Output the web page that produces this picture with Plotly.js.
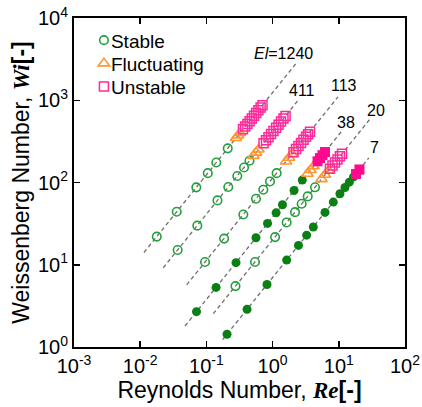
<!DOCTYPE html>
<html><head><meta charset="utf-8">
<script src="https://cdn.plot.ly/plotly-3.0.1.min.js"></script>
<style>html,body{margin:0;padding:0;background:#fff}#chart{width:422px;height:407px}</style>
</head><body><div id="chart"></div>
<script>
// ---- data ----
const elValues = [1240, 411, 113, 38, 20, 7];
const elLabels = ['<i>El</i>=1240', '411', '113', '38', '20', '7'];
const lineReStart = [0.0114, 0.0223, 0.0504, 0.0475, 0.127, 0.176];
const lineWiStart = [14.1, 9.2, 5.7, 1.8, 2.54, 1.23];
const lineReEnd = [2.25, 2.42, 9.73, 11.6, 29.6, 28.4];
const lineWiEnd = [2790, 995, 1100, 441, 592, 199];

const stableOpenRe = [0.0178, 0.0356, 0.0704, 0.105, 0.141, 0.210,
  0.0368, 0.0729, 0.147, 0.214, 0.293, 0.370, 0.448,
  0.0953, 0.185, 0.361, 0.561, 0.724, 0.913, 1.15,
  0.275, 0.542, 1.09, 1.63, 2.18, 2.75, 3.39, 4.37];
const stableOpenWi = [22.0, 44.1, 87.3, 130, 175, 260,
  15.1, 29.9, 60.6, 88.1, 120, 152, 184,
  10.8, 20.8, 40.8, 63.4, 81.8, 103, 130,
  5.5, 10.8, 21.7, 32.7, 43.6, 55.1, 67.8, 87.4];

const stableFilledRe = [0.0709, 0.140, 0.280, 0.561, 0.838, 1.13, 1.41, 2.11, 2.81,
  0.205, 0.411, 0.823, 1.63, 2.46, 3.27, 4.12, 6.19, 8.26, 10.4, 12.4, 14.4, 16.7];
const stableFilledWi = [2.69, 5.30, 10.6, 21.3, 31.8, 42.8, 53.6, 80.0, 107,
  1.43, 2.87, 5.76, 11.4, 17.2, 22.9, 28.8, 43.3, 57.8, 73.0, 86.9, 101, 117];

const fluctRe = [0.280, 0.300, 0.322,
  0.514, 0.561, 0.612,
  1.59, 1.77, 1.96,
  3.37, 3.74, 4.15,
  5.48, 6.19, 6.99,
  19.5];
const fluctWi = [347, 372, 400,
  211, 231, 252,
  180, 200, 222,
  128, 142, 158,
  110, 124, 140,
  136];

const unstableOpenRe = [0.357, 0.386, 0.416, 0.450, 0.485, 0.524, 0.565, 0.610, 0.659, 0.704,
  0.729, 0.795, 0.867, 0.946, 1.03, 1.13, 1.23, 1.34, 1.46, 1.57,
  2.07, 2.26, 2.46, 2.69, 2.93, 3.20, 3.43, 3.67,
  7.36, 8.03, 8.76, 9.55, 10.4, 11.2];
const unstableOpenWi = [443, 478, 516, 557, 602, 649, 701, 757, 817, 872,
  300, 327, 356, 389, 424, 463, 505, 550, 601, 644,
  234, 255, 278, 303, 331, 361, 387, 415,
  147, 161, 175, 191, 208, 223];

const unstableFilledRe = [4.77, 5.20, 5.67, 6.19, 18.2, 20.5];
const unstableFilledWi = [181, 198, 215, 235, 127, 144];

// label anchor points (Re, Wi) for the El annotations
const labelRe = [1.44, 2.78, 12.0, 12.85, 36.5, 35.2];
const labelWi = [3750, 1330, 1530, 544, 761, 270];

const xTickVals = [0.001, 0.01, 0.1, 1, 10, 100];
const xTickText = ['10<sup>-3</sup>', '10<sup>-2</sup>', '10<sup>-1</sup>', '10<sup>0</sup>', '10<sup>1</sup>', '10<sup>2</sup>'];
const yTickVals = [1, 10, 100, 1000, 10000];
const yTickText = ['10<sup>0</sup>', '10<sup>1</sup>', '10<sup>2</sup>', '10<sup>3</sup>', '10<sup>4</sup>'];

// ---- traces ----
const traces = [];
elValues.forEach((el, i) => {
  traces.push({
    type: 'scatter', mode: 'lines',
    x: [lineReStart[i], lineReEnd[i]], y: [lineWiStart[i], lineWiEnd[i]],
    line: {color: '#6e6e6e', width: 1.3, dash: '4px,3px'},
    showlegend: false, hoverinfo: 'skip'
  });
});
traces.push({type: 'scatter', mode: 'markers', name: 'Stable', x: stableOpenRe, y: stableOpenWi,
  marker: {symbol: 'circle-open', size: 8.5, color: '#22a13a', line: {width: 1.6, color: '#22a13a'}}});
traces.push({type: 'scatter', mode: 'markers', name: 'Stable (filled)', showlegend: false, x: stableFilledRe, y: stableFilledWi,
  marker: {symbol: 'circle', size: 9, color: '#0a7f14', line: {width: 0}}});
traces.push({type: 'scatter', mode: 'markers', name: 'Fluctuating', x: fluctRe, y: fluctWi,
  marker: {symbol: 'triangle-up-open', size: 10, color: '#ff962e', line: {width: 1.6, color: '#ff962e'}}});
traces.push({type: 'scatter', mode: 'markers', name: 'Unstable', x: unstableOpenRe, y: unstableOpenWi,
  marker: {symbol: 'square-open', size: 9, color: '#ff2a9a', line: {width: 1.5, color: '#ff2a9a'}}});
traces.push({type: 'scatter', mode: 'markers', name: 'Unstable (filled)', showlegend: false, x: unstableFilledRe, y: unstableFilledWi,
  marker: {symbol: 'square', size: 10, color: '#ff0a8e', line: {width: 0}}});

const annotations = elLabels.map((t, i) => ({
  text: t, x: Math.log10(labelRe[i]), y: Math.log10(labelWi[i]), xref: 'x', yref: 'y',
  showarrow: false, xanchor: 'center', yanchor: 'middle',
  font: {size: 16, color: '#000', family: 'Liberation Sans, Arial, sans-serif'}
}));

const axisCommon = {
  type: 'log', showgrid: false, zeroline: false,
  showline: true, linecolor: '#000', linewidth: 2, mirror: 'ticks',
  ticks: 'inside', ticklen: 6, tickwidth: 1.5, tickcolor: '#000',
  tickfont: {size: 20, color: '#000', family: 'Liberation Sans, Arial, sans-serif'}
};

const layout = {
  width: 422, height: 407,
  margin: {l: 74, r: 17, t: 18, b: 60},
  paper_bgcolor: '#fff', plot_bgcolor: '#fff',
  font: {family: 'Liberation Sans, Arial, sans-serif', color: '#000'},
  xaxis: Object.assign({}, axisCommon, {
    range: [-3, 2], tickvals: xTickVals, ticktext: xTickText,
    title: {text: 'Reynolds Number, <span style="font-family:\'Liberation Serif\'"><b><i>Re</i></b></span><b>[-]</b>',
      font: {size: 23, color: '#000'}, standoff: 4}
  }),
  yaxis: Object.assign({}, axisCommon, {
    range: [0, 4], tickvals: yTickVals, ticktext: yTickText,
    title: {text: 'Weissenberg Number, <span style="font-family:\'Liberation Serif\'"><b><i>Wi</i></b></span><b>[-]</b>',
      font: {size: 23, color: '#000'}, standoff: 2}
  }),
  showlegend: true,
  legend: {x: 0.03, y: 0.99, xanchor: 'left', yanchor: 'top', bgcolor: 'rgba(0,0,0,0)',
    font: {size: 19, color: '#000'}, itemwidth: 30, tracegroupgap: 0},
  annotations: annotations
};

const gd = document.getElementById('chart');
Plotly.newPlot(gd, traces, layout, {displayModeBar: false, staticPlot: true}).then(() => {
  // tighten the legend: text closer to its symbol, rows evenly spaced like the reference
  const items = gd.querySelectorAll('.legend .traces');
  let y0 = null;
  items.forEach((g, i) => {
    const m = /translate\(\s*([-\d.]+)[\s,]+([-\d.]+)\s*\)/.exec(g.getAttribute('transform') || '');
    if (!m) return;
    const x = parseFloat(m[1]), y = parseFloat(m[2]);
    if (y0 === null) y0 = y;
    g.setAttribute('transform', 'translate(' + x + ',' + (y0 + i * 23.2) + ')');
  });
  gd.querySelectorAll('.legend .legendtext').forEach(t => {
    const x = parseFloat(t.getAttribute('x') || '40');
    t.setAttribute('x', x - 13);
  });
});
</script></body></html>
